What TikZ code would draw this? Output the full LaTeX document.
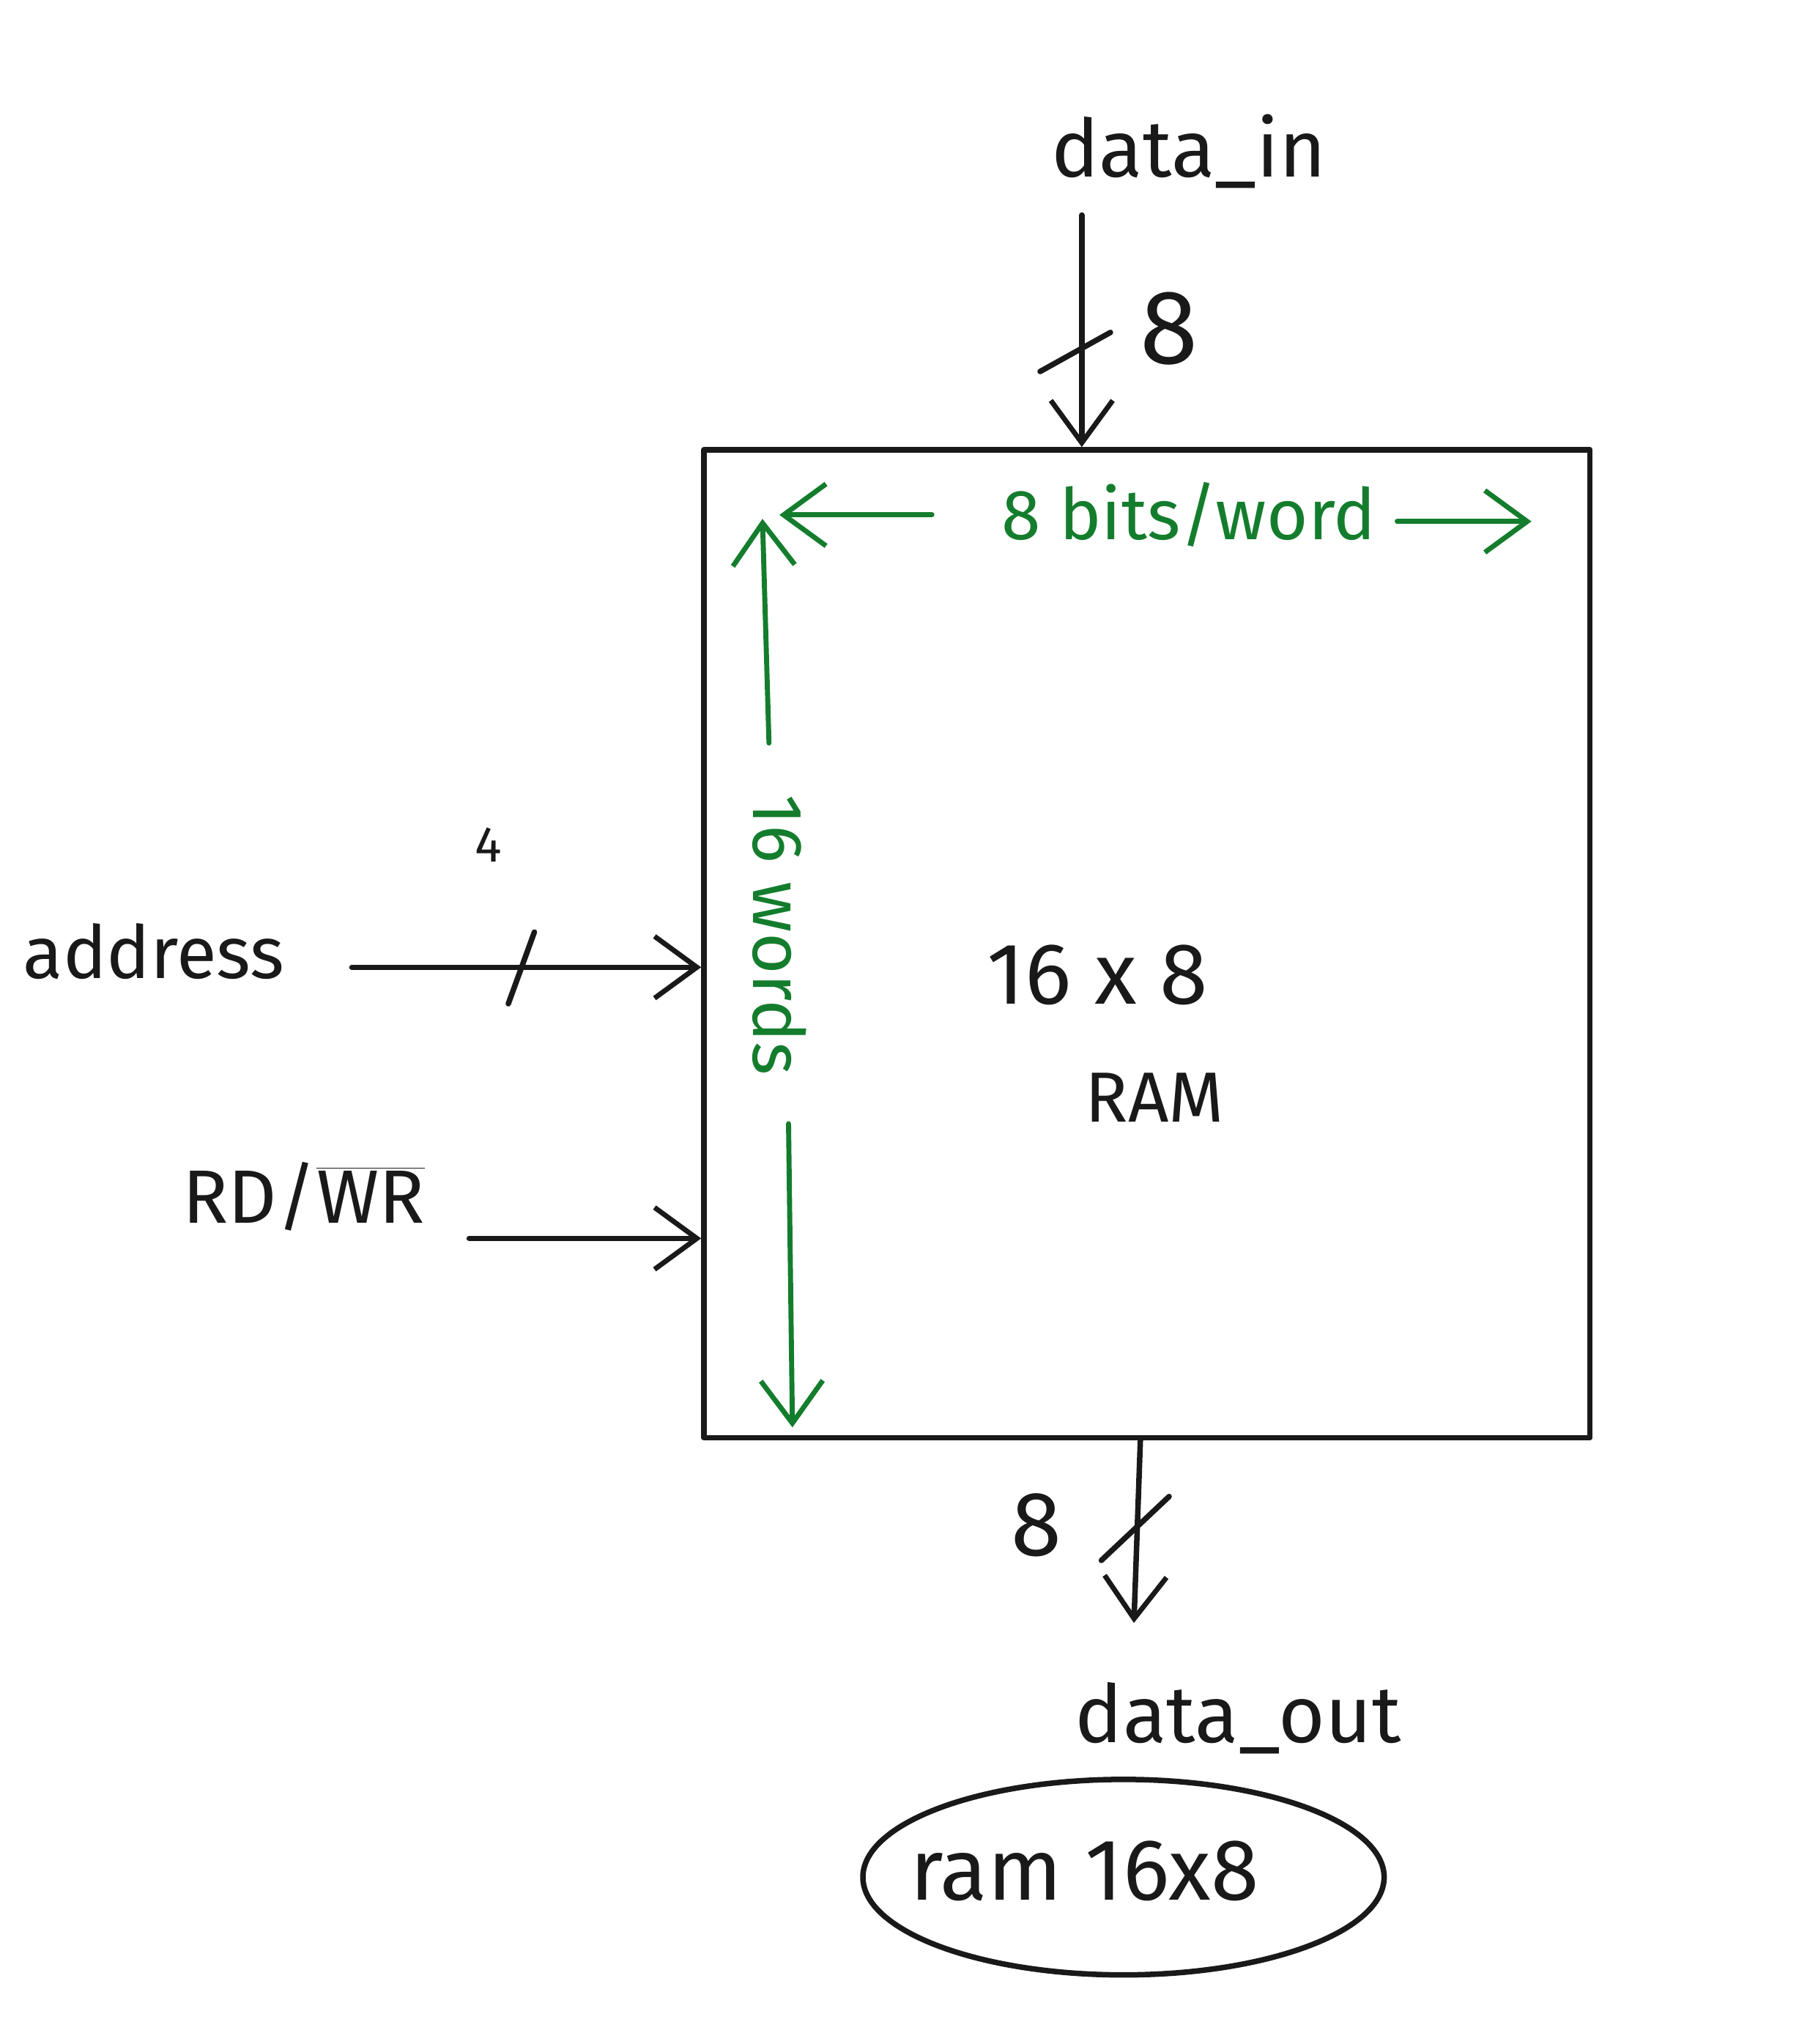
\documentclass[tikz,border=0pt]{standalone}
\usepackage{fontspec}
\setmainfont{Fira Sans}
\usetikzlibrary{arrows.meta,shapes.geometric,calc}
\definecolor{pen}{RGB}{25,25,25}
\definecolor{greenpen}{RGB}{20,125,45}
\tikzset{
  stroke/.style={draw=pen, line width=2.4pt, line cap=round, line join=round},
  gstroke/.style={draw=greenpen, line width=2.2pt, line cap=round, line join=round},
  arr/.style={-{Straight Barb[length=0.65cm,width=0.95cm,line width=2.2pt]}},
  lbl/.style={text=pen, inner sep=0pt},
  glbl/.style={text=greenpen, inner sep=0pt},
}
\newcommand{\fs}[1]{\fontsize{#1}{#1}\selectfont}
\begin{document}
\begin{tikzpicture}[x=0.02cm, y=-0.02cm]
\useasboundingbox (0,0) rectangle (1380,1568);
% RAM box
\node[stroke, minimum width=13.6cm, minimum height=15.16cm, inner sep=0pt] (ram) at (880,724) {};
\node[lbl] (size) at (842,748) {\fs{38}16 x 8};
\node[lbl] (ramtxt) at (886,842) {\fs{31}RAM};
% data in
\node[lbl] (din) at (912,116) {\fs{35}data\_in};
\coordinate (dins) at (830,165);
\draw[stroke, arr] (dins) -- (dins |- ram.north);
\draw[stroke] (798,285) -- (852,255);
\node[lbl] (n8top) at (897,252) {\fs{46}8};
% address
\node[lbl] (addr) at (118,730) {\fs{32}address};
\coordinate (addrs) at (270,742);
\draw[stroke, arr] (addrs) -- (addrs -| ram.west);
\draw[stroke] (390,770) -- (410,715);
\node[lbl] (n4) at (375,648) {\fs{22}4};
% RD/WR
\node[lbl] (rdwr) at (233,918) {\fs{33}RD/$\overline{\mbox{WR}}$};
\coordinate (rws) at (360,950);
\draw[stroke, arr] (rws) -- (rws -| ram.west);
% data out
\coordinate (douts) at (875,1103);
\coordinate (doute) at (870,1245);
\draw[stroke, arr] (douts) -- (doute);
\draw[stroke] (845,1197) -- (897,1148);
\node[lbl] (n8bot) at (795,1170) {\fs{40}8};
\node[lbl] (dout) at (950,1318) {\fs{35}data\_out};
% name
\node[stroke, ellipse, minimum width=8cm, minimum height=3cm, inner sep=0pt] (name) at (862,1440) {};
\node[lbl] (nametxt) at (832,1435) {\fs{38}ram 16x8};
% green annotations
\node[glbl] (bw) at (912,395) {\fs{31}8 bits/word};
\coordinate (bwl) at (715,395);
\coordinate (bwlt) at (598,395);
\draw[gstroke, arr] (bwl) -- (bwlt);
\coordinate (bwr) at (1072,400);
\coordinate (bwrt) at (1175,400);
\draw[gstroke, arr] (bwr) -- (bwrt);
\node[glbl, rotate=-90] (words) at (598,717) {\fs{31}16 words};
\coordinate (wu) at (590,570);
\coordinate (wut) at (585,398);
\draw[gstroke, arr] (wu) -- (wut);
\coordinate (wd) at (605,862);
\coordinate (wdt) at (608,1095);
\draw[gstroke, arr] (wd) -- (wdt);
\end{tikzpicture}
\end{document}
